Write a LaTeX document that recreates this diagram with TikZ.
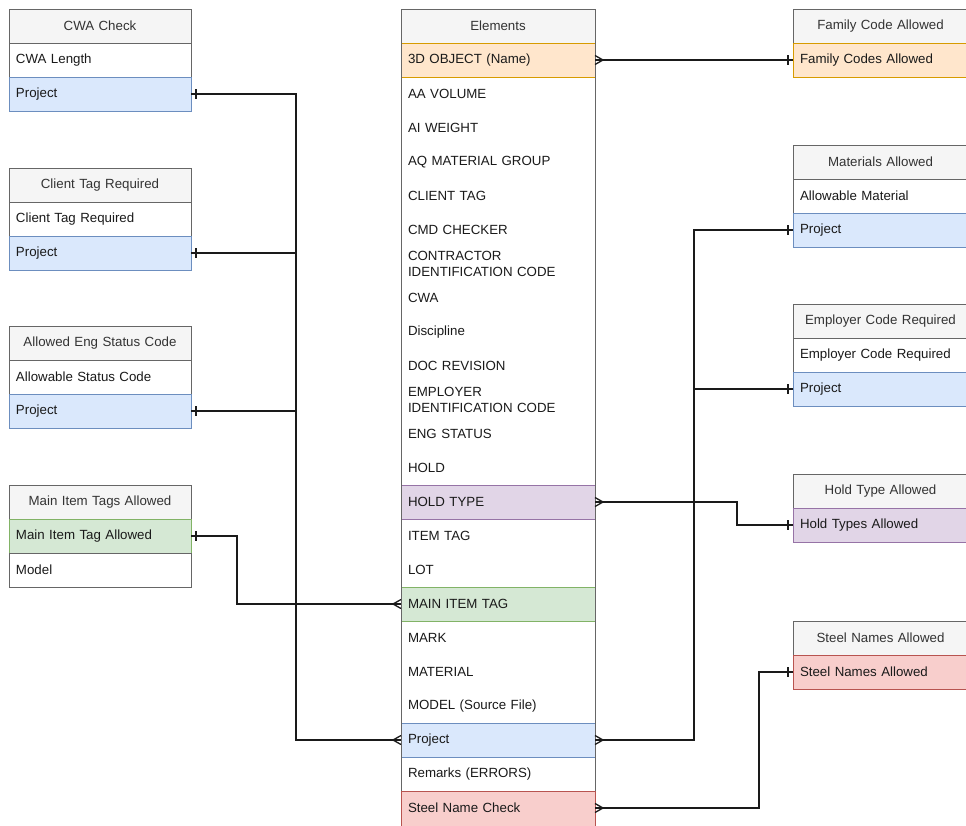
\documentclass[tikz,border=0pt]{standalone}
\usepackage{fontspec}
\setmainfont{Liberation Sans}
\usetikzlibrary{calc}

\definecolor{hdrfill}{HTML}{F5F5F5}
\definecolor{hdrline}{HTML}{666666}
\definecolor{hdrtext}{HTML}{333333}
\definecolor{bluefill}{HTML}{DAE8FC}
\definecolor{blueline}{HTML}{6C8EBF}
\definecolor{orangefill}{HTML}{FFE6CC}
\definecolor{orangeline}{HTML}{D79B00}
\definecolor{purplefill}{HTML}{E1D5E7}
\definecolor{purpleline}{HTML}{9673A6}
\definecolor{greenfill}{HTML}{D5E8D4}
\definecolor{greenline}{HTML}{82B366}
\definecolor{redfill}{HTML}{F8CECC}
\definecolor{redline}{HTML}{B85450}
\definecolor{rowtext}{HTML}{1A1A1A}
\definecolor{wire}{HTML}{1A1A1A}

\tikzset{
  cell/.style={anchor=north west, minimum height=34pt, inner ysep=0pt,
    inner xsep=7pt, outer sep=0pt, align=left, text=rowtext,
    font=\fontsize{13.3}{16}\selectfont, line width=0.9pt},
  leftw/.style={minimum width=182pt, text width=168pt},
  midw/.style={minimum width=194pt, text width=180pt},
  rightw/.style={minimum width=175pt, text width=161pt},
  head/.style={cell, draw=hdrline, fill=hdrfill, text=hdrtext, align=center},
  plain/.style={cell, draw=hdrline, fill=white},
  bare/.style={cell},
  blue/.style={cell, draw=blueline, fill=bluefill},
  orange/.style={cell, draw=orangeline, fill=orangefill},
  purple/.style={cell, draw=purpleline, fill=purplefill},
  green/.style={cell, draw=greenline, fill=greenfill},
  red/.style={cell, draw=redline, fill=redfill},
  link/.style={draw=wire, line width=1.3pt},
}

% crow's foot (many) at an entity edge; #2 = +1 points right, -1 points left
\newcommand\manyend[2]{%
  \draw[link] ($(#1)+(0,-4.5)$) -- ($(#1)+(#2*8,0)$) -- ($(#1)+(0,4.5)$);}
% single bar (one) just outside an entity edge
\newcommand\oneend[2]{%
  \draw[link] ($(#1)+(#2*5,-5)$) -- ($(#1)+(#2*5,5)$);}

\begin{document}
\begin{tikzpicture}[x=1pt,y=-1pt]
\useasboundingbox (0,0) rectangle (966,825);
\clip (0,0) rectangle (966,825);
\fill[white] (0,0) rectangle (966,825);

% ---- left tables ----
\node[head,leftw]  (cwa)     at (9,9)   {CWA Check};
\node[plain,leftw] (cwaLen)  at (9,43)  {CWA Length};
\node[blue,leftw]  (cwaProj) at (9,77)  {Project};

\node[head,leftw]  (ctr)     at (9,168) {Client Tag Required};
\node[plain,leftw] (ctrReq)  at (9,202) {Client Tag Required};
\node[blue,leftw]  (ctrProj) at (9,236) {Project};

\node[head,leftw]  (aes)     at (9,326) {Allowed Eng Status Code};
\node[plain,leftw] (aesCode) at (9,360) {Allowable Status Code};
\node[blue,leftw]  (aesProj) at (9,394) {Project};

\node[head,leftw]  (mit)      at (9,485) {Main Item Tags Allowed};
\node[green,leftw] (mitTag)   at (9,519) {Main Item Tag Allowed};
\node[plain,leftw] (mitModel) at (9,553) {Model};

% ---- Elements table ----
\fill[white] (401,43) rectangle (595,830);
% last row runs on past the lower edge
\filldraw[fill=redfill,draw=redline,line width=0.9pt] (401,791) rectangle (595,835);
\node[head,midw]   (elH)    at (401,9)   {Elements};
\node[orange,midw] (e3d)    at (401,43)  {3D OBJECT (Name)};
\node[bare,midw]   (eAAV)   at (401,77)  {AA VOLUME};
\node[bare,midw]   (eAIW)   at (401,111) {AI WEIGHT};
\node[bare,midw]   (eAQ)    at (401,145) {AQ MATERIAL GROUP};
\node[bare,midw]   (eCT)    at (401,179) {CLIENT TAG};
\node[bare,midw]   (eCMD)   at (401,213) {CMD CHECKER};
\node[bare,midw]   (eCIC)   at (401,247) {CONTRACTOR\\IDENTIFICATION CODE};
\node[bare,midw]   (eCWA)   at (401,281) {CWA};
\node[bare,midw]   (eDisc)  at (401,315) {Discipline};
\node[bare,midw]   (eDoc)   at (401,349) {DOC REVISION};
\node[bare,midw]   (eEIC)   at (401,383) {EMPLOYER\\IDENTIFICATION CODE};
\node[bare,midw]   (eEng)   at (401,417) {ENG STATUS};
\node[bare,midw]   (eHold)  at (401,451) {HOLD};
\node[purple,midw] (eHT)    at (401,485) {HOLD TYPE};
\node[bare,midw]   (eItem)  at (401,519) {ITEM TAG};
\node[bare,midw]   (eLot)   at (401,553) {LOT};
\node[green,midw]  (eMain)  at (401,587) {MAIN ITEM TAG};
\node[bare,midw]   (eMark)  at (401,621) {MARK};
\node[bare,midw]   (eMat)   at (401,655) {MATERIAL};
\node[bare,midw]   (eModel) at (401,689) {MODEL (Source File)};
\node[blue,midw]   (eProj)  at (401,723) {Project};
\node[bare,midw]   (eRem)   at (401,757) {Remarks (ERRORS)};
\node[bare,midw]   (eSteel) at (401,791) {Steel Name Check};
\draw[hdrline,line width=0.9pt] (elH.north west) -- (401,791)
      (elH.north east) -- (595,791);

% ---- right tables ----
\node[head,rightw]   (fca)     at (793,9)   {Family Code Allowed};
\node[orange,rightw] (fcaRow)  at (793,43)  {Family Codes Allowed};

\node[head,rightw]   (mat)     at (793,145) {Materials Allowed};
\node[plain,rightw]  (matRow)  at (793,179) {Allowable Material};
\node[blue,rightw]   (matProj) at (793,213) {Project};

\node[head,rightw]   (ecr)     at (793,304) {Employer Code Required};
\node[plain,rightw]  (ecrRow)  at (793,338) {Employer Code Required};
\node[blue,rightw]   (ecrProj) at (793,372) {Project};

\node[head,rightw]   (hta)     at (793,474) {Hold Type Allowed};
\node[purple,rightw] (htaRow)  at (793,508) {Hold Types Allowed};

\node[head,rightw]   (sna)     at (793,621) {Steel Names Allowed};
\node[red,rightw]    (snaRow)  at (793,655) {Steel Names Allowed};

% ---- connectors ----
\coordinate (spL) at (296,740);
\coordinate (spR) at (694,740);

\draw[link] (cwaProj.east) -| (spL) -- (eProj.west);
\draw[link] (ctrProj.east) -- (ctrProj.east -| spL);
\draw[link] (aesProj.east) -- (aesProj.east -| spL);
\draw[link] (mitTag.east) -- ++(46,0) |- (eMain.west);

\draw[link] (e3d.east) -- (fcaRow.west);
\draw[link] (matProj.west) -| (spR) -- (eProj.east);
\draw[link] (ecrProj.west) -- (ecrProj.west -| spR);
\draw[link] (eHT.east) -- ++(142,0) |- (htaRow.west);
\draw[link] (eSteel.east) -- ++(164,0) |- (snaRow.west);

% ---- cardinality marks ----
\oneend{cwaProj.east}{1}
\oneend{ctrProj.east}{1}
\oneend{aesProj.east}{1}
\oneend{mitTag.east}{1}
\manyend{eProj.west}{-1}
\manyend{eMain.west}{-1}

\manyend{e3d.east}{1}
\manyend{eHT.east}{1}
\manyend{eProj.east}{1}
\manyend{eSteel.east}{1}
\oneend{fcaRow.west}{-1}
\oneend{matProj.west}{-1}
\oneend{ecrProj.west}{-1}
\oneend{htaRow.west}{-1}
\oneend{snaRow.west}{-1}
\end{tikzpicture}
\end{document}
